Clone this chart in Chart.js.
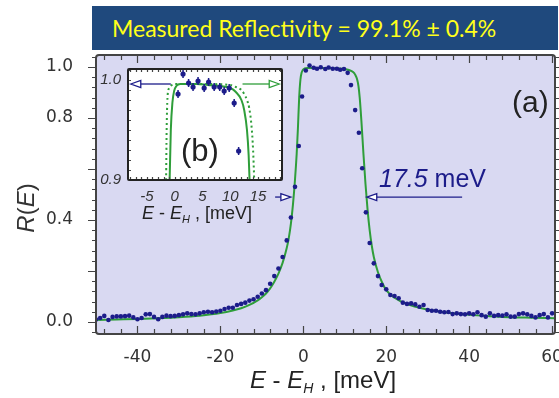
<!DOCTYPE html>
<html>
<head>
<meta charset="utf-8">
<script src="https://cdn.jsdelivr.net/npm/chart.js@4.4.0/dist/chart.umd.min.js"></script>
<style>
  html, body { margin: 0; padding: 0; background: #fff; }
  #wrap { position: relative; width: 559px; height: 398px; overflow: hidden; }
  #mainChart { position: absolute; left: 0; top: 0; }
  #insetChart { position: absolute; left: 96px; top: 56px; }
  #banner {
    position: absolute; left: 92px; top: 6px; width: 446px; height: 44px;
    padding-left: 20px; background: #1f497d; color: #ffff1a;
    font: 23px Lato, "Open Sans", sans-serif; line-height: 44px; white-space: nowrap;
  }
</style>
</head>
<body>
<div id="wrap">
  <canvas id="mainChart" width="559" height="398"></canvas>
  <canvas id="insetChart" width="192" height="170"></canvas>
  <div id="banner">Measured Reflectivity = 99.1% ± 0.4%</div>
</div>
<script>
// measured points (energy offset in meV, reflectivity)
const measE = [
  -50, -49, -48, -47, -46, -45, -44, -43, -42, -41, -40, -39, -38, -37, -36, -35, -34, -33, -32, -31,
  -30, -29, -28, -27, -26, -25, -24, -23, -22, -21, -20, -19, -18, -17, -16, -15, -14, -13, -12, -11,
  -10, -9, -8, -7, -6, -5, -4, -3, -2,
  -1.1, -0.3, 0.6, 1.5, 2.5, 3.3, 4.2, 5.3, 6.1, 7.1, 8.1, 8.9, 9.8, 10.7, 11.5, 12.5, 13.4, 14.2, 15.1,
  16, 17, 18, 18.9,
  20, 21, 22, 23, 24, 25, 26, 27, 28, 29, 30, 31, 32, 33, 34, 35, 36, 37, 38, 39,
  40, 41, 42, 43, 44, 45, 46, 47, 48, 49, 50, 51, 52, 53, 54, 55, 56, 57, 58, 59, 60
];
const measR = [
  0.010, 0.016, 0.024, 0.008, 0.020, 0.022, 0.022, 0.023, 0.025, 0.018, 0.011, 0.016, 0.030, 0.031, 0.020, 0.011, 0.020, 0.025, 0.023, 0.024,
  0.027, 0.030, 0.034, 0.031, 0.030, 0.034, 0.038, 0.040, 0.038, 0.041, 0.044, 0.051, 0.056, 0.056, 0.067, 0.071, 0.076, 0.084, 0.089, 0.099,
  0.112, 0.125, 0.150, 0.180, 0.210, 0.255, 0.320, 0.410, 0.530,
  0.690, 0.884, 0.986, 1.006, 0.997, 0.993, 0.999, 0.992, 0.998, 0.993, 0.993, 0.989, 0.992, 0.977, 0.929, 0.831, 0.742, 0.603, 0.430,
  0.310, 0.230, 0.180, 0.145,
  0.128, 0.106, 0.102, 0.093, 0.076, 0.071, 0.073, 0.069, 0.060, 0.067, 0.047, 0.044, 0.044, 0.040, 0.038, 0.039, 0.031, 0.034, 0.031, 0.030,
  0.034, 0.030, 0.038, 0.027, 0.021, 0.034, 0.024, 0.027, 0.025, 0.030, 0.021, 0.021, 0.031, 0.034, 0.030, 0.024, 0.018, 0.027, 0.031, 0.018, 0.034
];
const measErr = [
  0.003, 0.003, 0.003, 0.003, 0.003, 0.003, 0.003, 0.003, 0.003, 0.003, 0.003, 0.003, 0.003, 0.003, 0.003, 0.003, 0.003, 0.003, 0.003, 0.003,
  0.003, 0.003, 0.003, 0.003, 0.003, 0.003, 0.003, 0.003, 0.003, 0.003, 0.003, 0.003, 0.003, 0.003, 0.003, 0.003, 0.003, 0.003, 0.003, 0.003,
  0.003, 0.003, 0.003, 0.003, 0.003, 0.003, 0.003, 0.003, 0.003,
  0.004, 0.004, 0.004, 0.004, 0.004, 0.004, 0.004, 0.004, 0.004, 0.004, 0.004, 0.004, 0.004, 0.004, 0.004, 0.004, 0.004, 0.004, 0.004,
  0.003, 0.003, 0.003, 0.003,
  0.003, 0.003, 0.003, 0.003, 0.003, 0.003, 0.003, 0.003, 0.003, 0.003, 0.003, 0.003, 0.003, 0.003, 0.003, 0.003, 0.003, 0.003, 0.003, 0.003,
  0.003, 0.003, 0.003, 0.003, 0.003, 0.003, 0.003, 0.003, 0.003, 0.003, 0.003, 0.003, 0.003, 0.003, 0.003, 0.003, 0.003, 0.003, 0.003, 0.003, 0.003
];

// fitted curve (solid green)
const fitE = [-50, -45, -40, -35, -30, -25, -20, -17, -15, -13, -11, -10, -9, -8, -7, -6, -5, -4, -3.5, -3, -2.5, -2,
  -1.6, -1.3, -1.0, -0.7, -0.4, -0.1, 0.3, 1, 2, 4, 6, 8, 10, 11, 12, 12.5, 13, 13.3, 13.6, 14, 14.5, 15, 15.5, 16, 16.5,
  17, 18, 19, 20, 22, 25, 28, 32, 36, 40, 45, 50, 55, 60.7];
const fitR = [0.008, 0.010, 0.012, 0.015, 0.019, 0.025, 0.035, 0.045, 0.054, 0.067, 0.085, 0.097, 0.112, 0.132, 0.158, 0.19, 0.232, 0.29, 0.33, 0.385, 0.46, 0.56,
  0.66, 0.76, 0.88, 0.95, 0.978, 0.989, 0.994, 0.996, 0.996, 0.996, 0.995, 0.994, 0.992, 0.988, 0.98, 0.97, 0.95, 0.925, 0.88, 0.79, 0.66, 0.54, 0.44, 0.36, 0.30,
  0.255, 0.195, 0.155, 0.125, 0.095, 0.07, 0.056, 0.043, 0.034, 0.028, 0.023, 0.019, 0.017, 0.015];

// ideal curve (dotted green, inset only)
const idealE = [-1.7, -1.55, -1.45, -1.3, -1.0, -0.5, 0, 5, 10, 11, 12, 12.5, 13, 13.4, 13.8, 14.1, 14.3, 14.5];
const idealR = [0.84, 0.90, 0.95, 0.982, 0.992, 0.995, 0.996, 0.996, 0.995, 0.993, 0.99, 0.986, 0.98, 0.972, 0.955, 0.93, 0.90, 0.86];

const mainXTicks = [-40, -20, 0, 20, 40, 60];
const mainYTicks = [0, 0.2, 0.4, 0.6, 0.8, 1.0];
const mainYLabels = ['0.0', '', '0.4', '', '0.8', '1.0'];
const insetXTicks = [-5, 0, 5, 10, 15];
const insetYTicks = [0.9, 1.0];
const insetYLabels = ['0.9', '1.0'];

const halfMax = 0.49;
const fwhmEdges = [-3.0, 15.3];
const fwhmLabel = '17.5';

const NAVY = '#1c1c8a';
const GREEN = '#2f9e3a';
const LAVENDER = '#d9d9f2';
const FRAME = '#444';
const SANS = '"Liberation Sans", Arial, sans-serif';

function richText(ctx, parts, x, y, size, align, color) {
  // parts: [text, 'i' italic | 's' italic subscript | '' upright]
  const fontFor = (p) => {
    const sz = p[1] === 's' ? Math.round(size * 0.6) : size;
    return (p[1] ? 'italic ' : '') + sz + 'px ' + SANS;
  };
  let total = 0;
  parts.forEach((p) => { ctx.font = fontFor(p); total += ctx.measureText(p[0]).width; });
  let cx = align === 'center' ? x - total / 2 : x;
  ctx.fillStyle = color;
  ctx.textBaseline = 'alphabetic';
  ctx.textAlign = 'left';
  parts.forEach((p) => {
    ctx.font = fontFor(p);
    ctx.fillText(p[0], cx, p[1] === 's' ? y + size * 0.22 : y);
    cx += ctx.measureText(p[0]).width;
  });
}

function arrow(ctx, x0, x1, y, color) {
  const dir = x1 > x0 ? 1 : -1;
  const len = 10, half = 3.5;
  ctx.save();
  ctx.strokeStyle = color;
  ctx.lineWidth = 1.3;
  ctx.beginPath();
  ctx.moveTo(x0, y);
  ctx.lineTo(x1 - dir * len, y);
  ctx.stroke();
  ctx.beginPath();
  ctx.moveTo(x1, y);
  ctx.lineTo(x1 - dir * len, y - half);
  ctx.lineTo(x1 - dir * len, y + half);
  ctx.closePath();
  ctx.fillStyle = '#fff';
  ctx.fill();
  ctx.stroke();
  ctx.restore();
}

function roundFrame(ctx, a, r, color, w) {
  ctx.save();
  ctx.strokeStyle = color;
  ctx.lineWidth = w;
  ctx.beginPath();
  ctx.roundRect(a.left, a.top, a.right - a.left, a.bottom - a.top, r);
  ctx.stroke();
  ctx.restore();
}

// tick marks: side 'top'|'bottom'|'left'|'right', dir +1 inward, -1 outward
function tickMarks(ctx, scale, area, values, len, side, dir) {
  ctx.save();
  ctx.strokeStyle = FRAME;
  ctx.lineWidth = 1.2;
  ctx.beginPath();
  values.forEach((v) => {
    const p = Math.round(scale.getPixelForValue(v)) + 0.5;
    if (side === 'top') { ctx.moveTo(p, area.top); ctx.lineTo(p, area.top + dir * len); }
    if (side === 'bottom') { ctx.moveTo(p, area.bottom); ctx.lineTo(p, area.bottom - dir * len); }
    if (side === 'left') { ctx.moveTo(area.left, p); ctx.lineTo(area.left + dir * len, p); }
    if (side === 'right') { ctx.moveTo(area.right, p); ctx.lineTo(area.right - dir * len, p); }
  });
  ctx.stroke();
  ctx.restore();
}

function steps(from, to, step) {
  const out = [];
  for (let v = from; v <= to + 1e-9; v += step) out.push(Math.round(v * 1000) / 1000);
  return out;
}

const mainDecor = {
  id: 'mainDecor',
  beforeDraw(chart) {
    const { ctx, chartArea: a } = chart;
    ctx.save();
    ctx.fillStyle = LAVENDER;
    ctx.fillRect(a.left, a.top, a.right - a.left, a.bottom - a.top);
    ctx.restore();
  },
  afterDraw(chart) {
    const { ctx, chartArea: a, scales: { x, y } } = chart;
    const xMinor = steps(-48, 60, 4).filter((v) => v % 20 !== 0);
    const yMinor = steps(-0.04, 1.04, 0.04);
    tickMarks(ctx, x, a, mainXTicks, 8, 'top', 1);
    tickMarks(ctx, x, a, xMinor, 5, 'top', 1);
    tickMarks(ctx, x, a, mainXTicks, 8, 'bottom', 1);
    tickMarks(ctx, x, a, xMinor, 5, 'bottom', 1);
    tickMarks(ctx, y, a, mainYTicks, 8, 'left', -1);
    tickMarks(ctx, y, a, yMinor, 4, 'left', -1);
    tickMarks(ctx, y, a, mainYTicks, 8, 'right', -1);
    tickMarks(ctx, y, a, yMinor, 4, 'right', -1);
    roundFrame(ctx, a, 3, FRAME, 2);

    // FWHM arrows
    const yh = y.getPixelForValue(halfMax);
    arrow(ctx, x.getPixelForValue(fwhmEdges[0] - 3.8), x.getPixelForValue(fwhmEdges[0]), yh, NAVY);
    arrow(ctx, x.getPixelForValue(fwhmEdges[1] + 23), x.getPixelForValue(fwhmEdges[1]), yh, NAVY);
    richText(ctx, [[fwhmLabel, 'i'], [' meV', '']], 379, 187, 25, 'left', NAVY);

    ctx.save();
    ctx.font = '30px ' + SANS;
    ctx.fillStyle = '#222';
    ctx.textAlign = 'left';
    ctx.fillText('(a)', 512, 112);
    ctx.restore();

    // axis titles
    richText(ctx, [['E', 'i'], [' - ', ''], ['E', 'i'], ['H', 's'], [' , [meV]', '']], 323, 388, 24, 'center', '#222');
    ctx.save();
    ctx.translate(34, 208);
    ctx.rotate(-Math.PI / 2);
    richText(ctx, [['R', 'i'], ['(', ''], ['E', 'i'], [')', '']], 0, 0, 24, 'center', '#333');
    ctx.restore();
  }
};

new Chart(document.getElementById('mainChart'), {
  type: 'scatter',
  data: {
    datasets: [
      {
        data: measE.map((e, i) => ({ x: e, y: measR[i] })),
        pointRadius: 2.3,
        pointBackgroundColor: NAVY,
        pointBorderWidth: 0,
        order: 0,
      },
      {
        type: 'line',
        data: fitE.map((e, i) => ({ x: e, y: fitR[i] })),
        borderColor: GREEN,
        borderWidth: 2,
        pointRadius: 0,
        cubicInterpolationMode: 'monotone',
        order: 1,
      },
    ],
  },
  options: {
    responsive: false,
    animation: false,
    layout: { padding: { top: 55, right: 4, left: 0, bottom: 0 } },
    plugins: { legend: { display: false }, tooltip: { enabled: false } },
    scales: {
      x: {
        type: 'linear', min: -50, max: 60.7,
        grid: { display: false, drawTicks: false },
        border: { display: false },
        afterBuildTicks: (s) => { s.ticks = mainXTicks.map((v) => ({ value: v })); },
        afterFit: (s) => { s.height = 64; s.paddingLeft = 0; s.paddingRight = 0; },
        ticks: { font: { family: '"DejaVu Sans"', size: 17 }, color: '#333', padding: 13, maxRotation: 0, autoSkip: false },
      },
      y: {
        type: 'linear', min: -0.047, max: 1.047,
        grid: { display: false, drawTicks: false },
        border: { display: false },
        afterBuildTicks: (s) => { s.ticks = mainYTicks.map((v) => ({ value: v })); },
        afterFit: (s) => { s.width = 96; s.paddingTop = 0; s.paddingBottom = 0; },
        ticks: {
          font: { family: '"DejaVu Sans"', size: 17 }, color: '#333', padding: 23, autoSkip: false,
          callback: (v, i) => mainYLabels[i],
        },
      },
    },
  },
  plugins: [mainDecor],
});

const insetDecor = {
  id: 'insetDecor',
  beforeDraw(chart) {
    const { ctx, chartArea: a } = chart;
    ctx.save();
    ctx.fillStyle = '#fff';
    ctx.fillRect(a.left, a.top, a.right - a.left, a.bottom - a.top);
    ctx.restore();
  },
  afterDatasetsDraw(chart) {
    const { ctx, chartArea: a, scales: { x, y } } = chart;
    ctx.save();
    ctx.beginPath();
    ctx.rect(a.left, a.top, a.right - a.left, a.bottom - a.top);
    ctx.clip();
    ctx.strokeStyle = NAVY;
    ctx.lineWidth = 1.5;
    ctx.beginPath();
    measE.forEach((e, i) => {
      if (e < x.min || e > x.max) return;
      const px = x.getPixelForValue(e);
      ctx.moveTo(px, y.getPixelForValue(measR[i] - measErr[i]));
      ctx.lineTo(px, y.getPixelForValue(measR[i] + measErr[i]));
    });
    ctx.stroke();
    ctx.restore();
  },
  afterDraw(chart) {
    const { ctx, chartArea: a, scales: { x, y } } = chart;
    tickMarks(ctx, x, a, steps(-8, 19, 1), 3, 'top', 1);
    tickMarks(ctx, x, a, steps(-8, 19, 1), 3, 'bottom', 1);
    tickMarks(ctx, y, a, steps(0.91, 1.01, 0.01), 3, 'left', 1);
    tickMarks(ctx, y, a, steps(0.91, 1.01, 0.01), 3, 'right', 1);
    roundFrame(ctx, a, 1, '#222', 2);

    const yl = y.getPixelForValue(0.996);
    arrow(ctx, x.getPixelForValue(-0.7), x.getPixelForValue(-7.9), yl, NAVY);
    arrow(ctx, x.getPixelForValue(12.2), x.getPixelForValue(18.8), yl, GREEN);

    ctx.save();
    ctx.font = '31px ' + SANS;
    ctx.fillStyle = '#222';
    ctx.fillText('(b)', 85, 105);
    ctx.restore();

    richText(ctx, [['E', 'i'], [' - ', ''], ['E', 'i'], ['H', 's'], [' , [meV]', '']], 101, 163, 18, 'center', '#222');
  }
};

new Chart(document.getElementById('insetChart'), {
  type: 'scatter',
  data: {
    datasets: [
      {
        data: measE.map((e, i) => ({ x: e, y: measR[i] })),
        pointRadius: 2.6,
        pointBackgroundColor: NAVY,
        pointBorderWidth: 0,
        order: 0,
      },
      {
        type: 'line',
        data: fitE.map((e, i) => ({ x: e, y: fitR[i] })),
        borderColor: GREEN,
        borderWidth: 2,
        pointRadius: 0,
        cubicInterpolationMode: 'monotone',
        order: 1,
      },
      {
        type: 'line',
        data: idealE.map((e, i) => ({ x: e, y: idealR[i] })),
        borderColor: GREEN,
        borderWidth: 2,
        borderDash: [2, 3],
        pointRadius: 0,
        cubicInterpolationMode: 'monotone',
        order: 2,
      },
    ],
  },
  options: {
    responsive: false,
    animation: false,
    layout: { padding: { top: 13, right: 6, left: 0, bottom: 0 } },
    plugins: { legend: { display: false }, tooltip: { enabled: false } },
    scales: {
      x: {
        type: 'linear', min: -8.4, max: 19.3,
        grid: { display: false, drawTicks: false },
        border: { display: false },
        afterBuildTicks: (s) => { s.ticks = insetXTicks.map((v) => ({ value: v })); },
        afterFit: (s) => { s.height = 46; s.paddingLeft = 0; s.paddingRight = 0; },
        ticks: { font: { family: SANS, size: 15, style: 'italic' }, color: '#333', padding: 8, maxRotation: 0, autoSkip: false },
      },
      y: {
        type: 'linear', min: 0.9, max: 1.011,
        grid: { display: false, drawTicks: false },
        border: { display: false },
        afterBuildTicks: (s) => { s.ticks = insetYTicks.map((v) => ({ value: v })); },
        afterFit: (s) => { s.width = 32; s.paddingTop = 0; s.paddingBottom = 0; },
        ticks: {
          font: { family: SANS, size: 15, style: 'italic' }, color: '#333', padding: 7, autoSkip: false,
          callback: (v, i) => insetYLabels[i],
        },
      },
    },
  },
  plugins: [insetDecor],
});
</script>
</body>
</html>
